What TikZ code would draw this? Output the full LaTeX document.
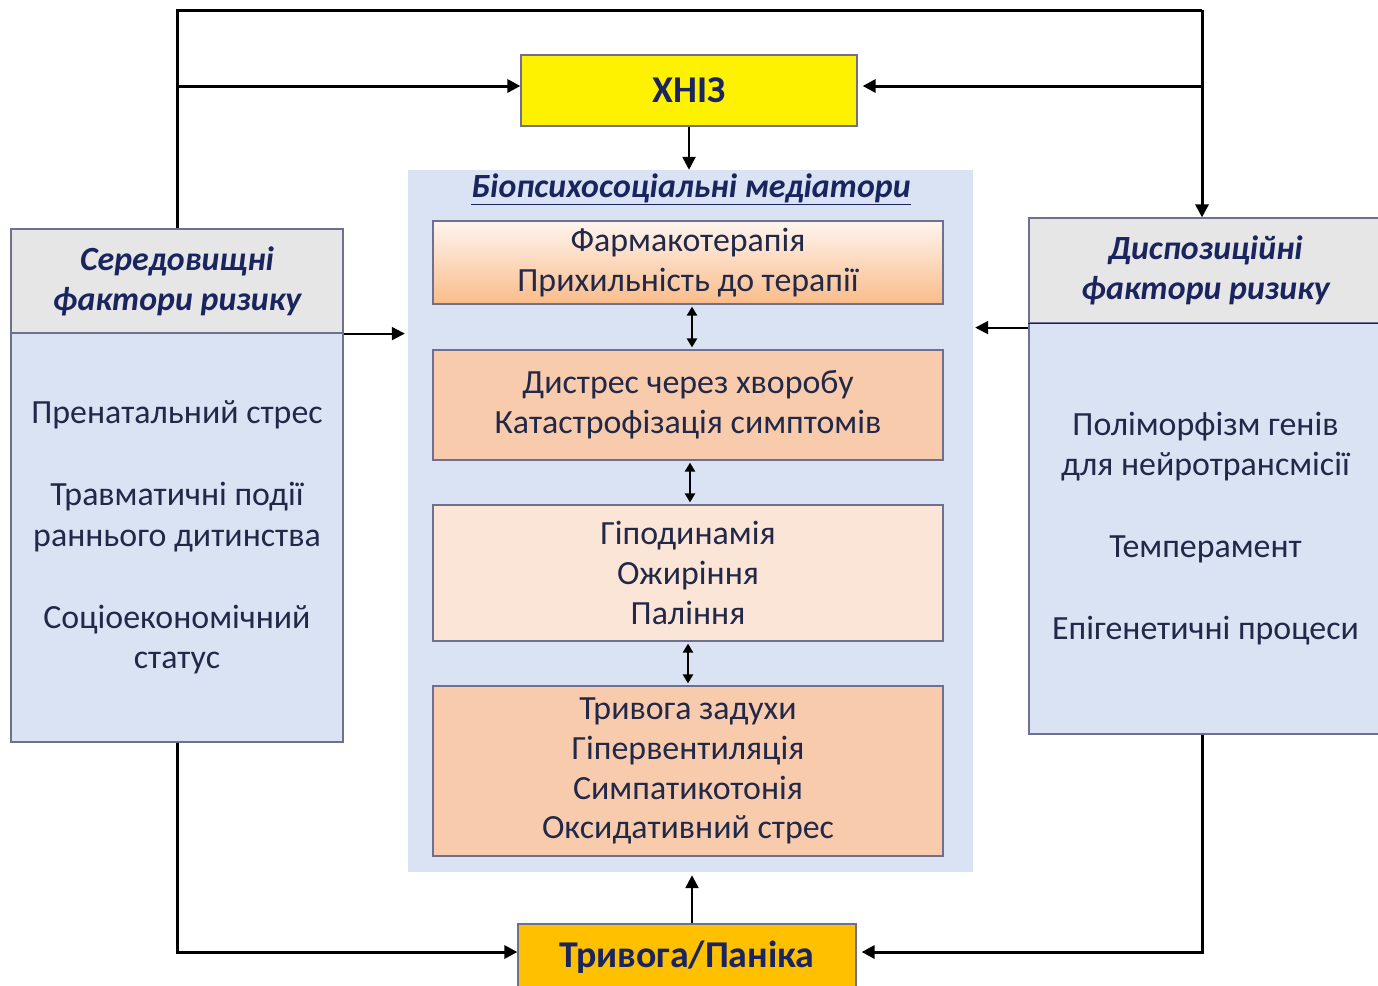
\documentclass[tikz,border=0pt]{standalone}
\usepackage{fontspec}
\setmainfont{Carlito}
\usetikzlibrary{arrows.meta,shadings}
\definecolor{navy}{HTML}{1A2560}
\definecolor{txt}{HTML}{222848}
\definecolor{medbg}{HTML}{DAE3F3}
\definecolor{headbg}{HTML}{E7E6E6}
\definecolor{peach}{HTML}{F8CBAD}
\definecolor{lightpeach}{HTML}{FBE5D6}
\definecolor{amber}{HTML}{FFC000}
\definecolor{edge}{HTML}{6F7090}
\begin{document}
\begin{tikzpicture}[x=1bp,y=-1bp,>={Triangle[length=13bp,width=13bp]},
  box/.style={draw=edge,line width=1.2bp,minimum width=510bp,align=center,text=txt,font=\fontsize{34}{40}\selectfont},
  head/.style={draw=edge,line width=1.2bp,fill=headbg,align=center,text=navy,font=\fontsize{34}{40}\selectfont\bfseries\itshape},
  body/.style={draw=edge,line width=1.2bp,fill=medbg,align=center,text=txt,font=\fontsize{34}{41}\selectfont},
  conn/.style={line width=3bp},
  dbl/.style={line width=2.5bp,{Triangle[length=9bp,width=10bp]}-{Triangle[length=9bp,width=10bp]},shorten <=2bp,shorten >=2bp}]
\useasboundingbox (0,0) rectangle (1378,985);
\node[draw=edge,line width=1.2bp,fill=yellow,minimum width=336bp,minimum height=71bp,text=navy,font=\fontsize{38}{42}\selectfont\bfseries](hniz) at (689,90.5){ХНІЗ};
\node[fill=medbg,minimum width=565bp,minimum height=702bp](med) at (690.5,521){};
\node[text=navy,font=\fontsize{34}{38}\selectfont\bfseries\itshape](title) at (691,189){\underline{Біопсихосоціальні медіатори}};
\node[box,minimum height=83bp,top color=white!80!peach,bottom color=peach!80!orange](b1) at (688,262.5){Фармакотерапія\\Прихильність до терапії};
\node[box,minimum height=110bp,fill=peach](b2) at (688,405){Дистрес через хворобу\\Катастрофізація симптомів};
\node[box,minimum height=136bp,fill=lightpeach](b3) at (688,573){Гіподинамія\\Ожиріння\\Паління};
\node[box,minimum height=170bp,fill=peach](b4) at (688,771){Тривога задухи\\Гіпервентиляція\\Симпатикотонія\\Оксидативний стрес};
\node[draw=edge,line width=1.2bp,fill=amber,minimum width=338bp,minimum height=66bp,text=navy,font=\fontsize{38}{42}\selectfont\bfseries](panic) at (687,957){Тривога/Паніка};
% left factors
\node[head,minimum width=332bp,minimum height=104bp](lhead) at (177,281){Середовищні\\фактори ризику};
\node[body,minimum width=332bp,minimum height=409bp](lbody) at (177,537.5){Пренатальний стрес\\[41bp]Травматичні події\\раннього дитинства\\[41bp]Соціоекономічний\\статус};
% right factors
\node[head,minimum width=353bp,minimum height=105bp](rhead) at (1205.5,270.5){Диспозиційні\\фактори ризику};
\node[body,minimum width=353bp,minimum height=411bp](rbody) at (1205.5,528.5){Поліморфізм генів\\для нейротрансмісії\\[41bp]Темперамент\\[41bp]Епігенетичні процеси};
\draw[draw=navy!80!blue,line width=1.5bp](rhead.south west)--(rhead.south east);
\coordinate (tl) at (177,10);
\coordinate (tr) at (1202,10);
\coordinate (hin) at ([yshift=4.5bp]hniz.west);
\coordinate (hout) at ([yshift=4.5bp]hniz.east);
\coordinate (rout) at ([yshift=-4bp]rhead.south west);
\draw[conn](lhead.north)--(tl)--(tr);
\draw[conn,->](tr)--(tr|-rhead.north);
\draw[conn,->](tl|-hin)--(hin);
\draw[conn,->,shorten >=5bp](tr|-hout)--(hout);
\draw[line width=2.5bp,->](hniz.south)--(hniz.south|-med.north);
\draw[line width=2bp,->,shorten >=3bp](lhead.south east)--(med.west|-lhead.south east);
\draw[line width=2bp,->,shorten >=2bp](rout)--(med.east|-rout);
\draw[dbl]([xshift=4bp]b1.south)--([xshift=4bp]b2.north);
\draw[dbl]([xshift=2bp]b2.south)--([xshift=2bp]b3.north);
\draw[dbl](b3.south)--(b4.north);
\draw[line width=2.5bp,->,shorten >=3bp]([xshift=5bp]panic.north)--([xshift=5bp]panic.north|-med.south);
\draw[conn,->](lbody.south)|-([yshift=5bp]panic.west);
\draw[conn,->,shorten >=5bp](tr|-rbody.south)|-([yshift=5bp]panic.east);
\end{tikzpicture}
\end{document}
